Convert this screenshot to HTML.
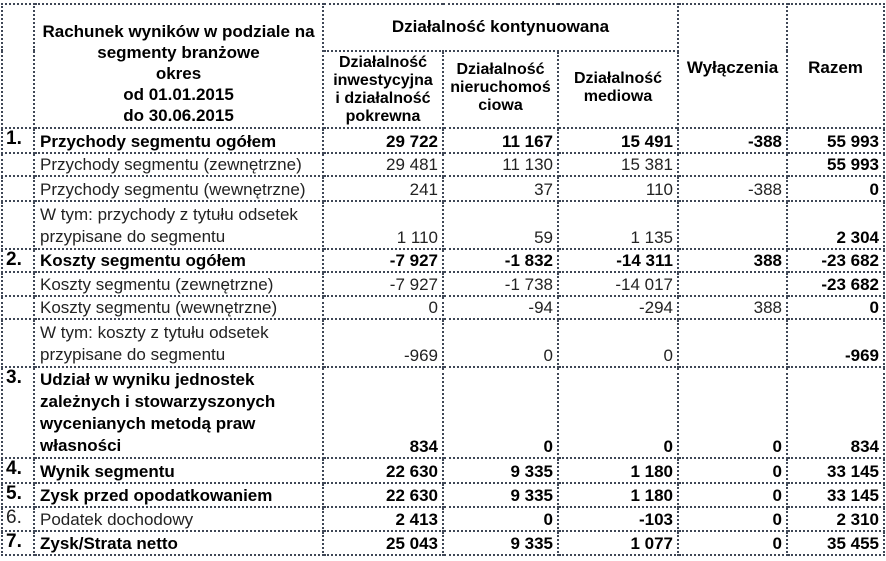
<!DOCTYPE html>
<html><head><meta charset="utf-8"><style>
body{margin:0;background:#fff;width:886px;height:561px;overflow:hidden;font-family:"Liberation Sans",Arial,sans-serif;}
table{position:absolute;left:1px;top:3px;border-collapse:collapse;table-layout:fixed;}
td{border:2px dotted #3f4756;padding:0 4px 0 5px;font-size:17px;color:#222;vertical-align:bottom;white-space:nowrap;overflow:hidden;line-height:21px;}
td.ml{line-height:22px;}
td.n{text-align:right;}
td.b{font-weight:bold;color:#000;}
tr.b td{font-weight:bold;color:#000;}
td.num{padding:0 2px 0 3px;vertical-align:top;font-weight:bold;color:#000;font-size:19px;line-height:20px;}
th{border:2px dotted #3f4756;font-size:17px;font-weight:bold;color:#000;padding:0;line-height:21px;}
th.s{font-size:16px;line-height:18px;vertical-align:bottom;padding-bottom:1px;}
</style></head><body>
<table>
<colgroup><col style="width:32px"><col style="width:289px"><col style="width:120px"><col style="width:115px"><col style="width:120px"><col style="width:109px"><col style="width:97px"></colgroup>
<tr style="height:47px">
<th rowspan="2"></th>
<th rowspan="2" style="vertical-align:bottom;padding-bottom:1px">Rachunek wyników w podziale na<br>segmenty branżowe<br>okres<br>od 01.01.2015<br>do 30.06.2015</th>
<th colspan="3" style="vertical-align:top;padding-top:11px">Działalność kontynuowana</th>
<th rowspan="2" style="vertical-align:top;padding-top:52px">Wyłączenia</th>
<th rowspan="2" style="vertical-align:top;padding-top:52px">Razem</th>
</tr>
<tr style="height:77px">
<th class="s">Działalność<br>inwestycyjna<br>i działalność<br>pokrewna</th>
<th class="s" style="vertical-align:top;padding-top:9px">Działalność<br>nieruchomoś<br>ciowa</th>
<th class="s" style="vertical-align:top;padding-top:18px">Działalność<br>mediowa</th>
</tr>
<tr class="b" style="height:25px"><td class="num">1.</td><td>Przychody segmentu ogółem</td><td class="n">29 722</td><td class="n">11 167</td><td class="n">15 491</td><td class="n">-388</td><td class="n">55 993</td></tr>
<tr style="height:23px"><td></td><td>Przychody segmentu (zewnętrzne)</td><td class="n">29 481</td><td class="n">11 130</td><td class="n">15 381</td><td class="n"></td><td class="n b">55 993</td></tr>
<tr style="height:25px"><td></td><td>Przychody segmentu (wewnętrzne)</td><td class="n">241</td><td class="n">37</td><td class="n">110</td><td class="n">-388</td><td class="n b">0</td></tr>
<tr style="height:48px"><td></td><td class="ml">W tym: przychody z tytułu odsetek<br>przypisane do segmentu</td><td class="n">1 110</td><td class="n">59</td><td class="n">1 135</td><td class="n"></td><td class="n b">2 304</td></tr>
<tr class="b" style="height:23px"><td class="num">2.</td><td>Koszty segmentu ogółem</td><td class="n">-7 927</td><td class="n">-1 832</td><td class="n">-14 311</td><td class="n">388</td><td class="n">-23 682</td></tr>
<tr style="height:24px"><td></td><td>Koszty segmentu (zewnętrzne)</td><td class="n">-7 927</td><td class="n">-1 738</td><td class="n">-14 017</td><td class="n"></td><td class="n b">-23 682</td></tr>
<tr style="height:23px"><td></td><td>Koszty segmentu (wewnętrzne)</td><td class="n">0</td><td class="n">-94</td><td class="n">-294</td><td class="n">388</td><td class="n b">0</td></tr>
<tr style="height:48px"><td></td><td class="ml">W tym: koszty z tytułu odsetek<br>przypisane do segmentu</td><td class="n">-969</td><td class="n">0</td><td class="n">0</td><td class="n"></td><td class="n b">-969</td></tr>
<tr class="b" style="height:91px"><td class="num">3.</td><td class="ml">Udział w wyniku jednostek<br>zależnych i stowarzyszonych<br>wycenianych metodą praw<br>własności</td><td class="n">834</td><td class="n">0</td><td class="n">0</td><td class="n">0</td><td class="n">834</td></tr>
<tr class="b" style="height:25px"><td class="num">4.</td><td>Wynik segmentu</td><td class="n">22 630</td><td class="n">9 335</td><td class="n">1 180</td><td class="n">0</td><td class="n">33 145</td></tr>
<tr class="b" style="height:24px"><td class="num">5.</td><td>Zysk przed opodatkowaniem</td><td class="n">22 630</td><td class="n">9 335</td><td class="n">1 180</td><td class="n">0</td><td class="n">33 145</td></tr>
<tr style="height:24px"><td class="num" style="font-weight:normal;color:#222">6.</td><td>Podatek dochodowy</td><td class="n b">2 413</td><td class="n b">0</td><td class="n b">-103</td><td class="n b">0</td><td class="n b">2 310</td></tr>
<tr class="b" style="height:24px"><td class="num">7.</td><td>Zysk/Strata netto</td><td class="n">25 043</td><td class="n">9 335</td><td class="n">1 077</td><td class="n">0</td><td class="n">35 455</td></tr>
</table>
</body></html>
